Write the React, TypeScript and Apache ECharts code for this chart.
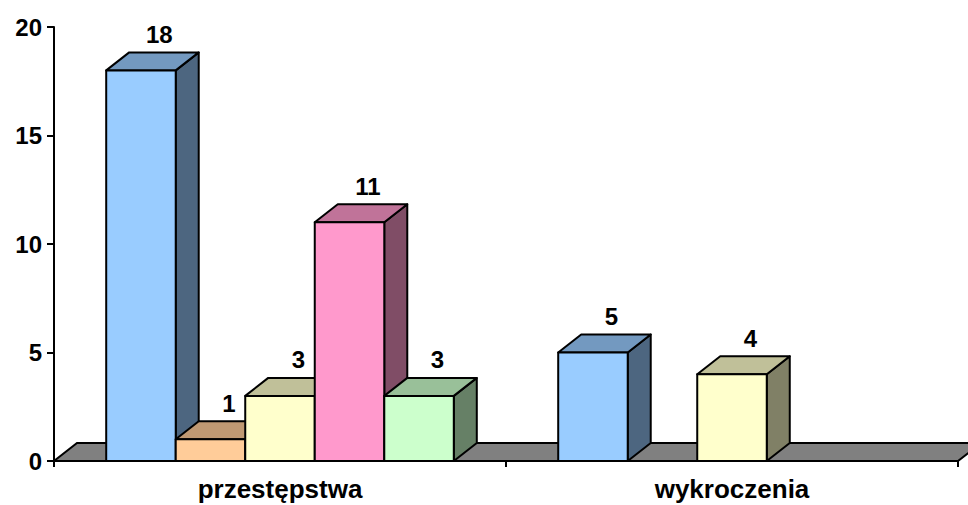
import React, { useEffect, useRef } from "react";
import * as echarts from "echarts";

const categories = ["przestępstwa", "wykroczenia"];
const yTicks = { min: 0, max: 20, interval: 5 };
const seriesA = [18, 5];
const seriesB = [1, null];
const seriesC = [3, 4];
const seriesD = [11, null];
const seriesE = [3, null];

const allSeries = [seriesA, seriesB, seriesC, seriesD, seriesE];
const frontColors = ["#99CCFF", "#FFCC99", "#FFFFCC", "#FF99CC", "#CCFFCC"];
const topColors = ["#7399C0", "#C09973", "#C0C099", "#C07399", "#99C099"];
const sideColors = ["#4D6680", "#80664D", "#808066", "#804D66", "#668066"];

const DX = 23;
const DY = 18;
const FAMILY = '"Liberation Sans", Arial, sans-serif';
const FONT = 'bold 24px "Liberation Sans", Arial, sans-serif';

export default function App() {
  const ref = useRef<HTMLDivElement>(null);
  useEffect(() => {
    document.body.style.margin = "0";
    const chart = echarts.init(ref.current!, null, { renderer: "svg" });
    const n = allSeries.length;
    const barSeries = allSeries.map((vals, si) => ({
      type: "custom",
      name: "s" + si,
      data: vals.map((v, i) => [i, v == null ? NaN : v]),
      renderItem: (params: any, api: any) => {
        const cat = api.value(0);
        const val = api.value(1);
        if (val == null || isNaN(val)) return null;
        const base = api.coord([cat, 0]);
        const top = api.coord([cat, val]);
        const catW = api.size([1, 0])[0];
        const bw = (catW * 0.769) / n;
        const x0 = base[0] + (si - n / 2) * bw;
        const x1 = x0 + bw;
        const yb = base[1];
        const yt = top[1];
        const line = { stroke: "#000", lineWidth: 2, lineJoin: "round" };
        return {
          type: "group",
          children: [
            {
              type: "polygon",
              shape: { points: [[x1, yb], [x1 + DX, yb - DY], [x1 + DX, yt - DY], [x1, yt]] },
              style: { fill: sideColors[si], ...line },
            },
            {
              type: "polygon",
              shape: { points: [[x0, yt], [x0 + DX, yt - DY], [x1 + DX, yt - DY], [x1, yt]] },
              style: { fill: topColors[si], ...line },
            },
            {
              type: "rect",
              shape: { x: x0, y: yt, width: bw, height: yb - yt },
              style: { fill: frontColors[si], ...line },
            },
            {
              type: "text",
              style: {
                text: String(val),
                x: (x0 + x1) / 2 + DX * 0.8,
                y: yt - DY - 6,
                textAlign: "center",
                textVerticalAlign: "bottom",
                font: FONT,
                fill: "#000",
              },
            },
          ],
        };
      },
    }));
    const floorSeries = {
      type: "custom",
      name: "floor",
      data: [[0, 0]],
      silent: true,
      renderItem: (params: any) => {
        const cs = params.coordSys;
        const yb = cs.y + cs.height;
        const xl = cs.x;
        const xr = cs.x + cs.width;
        return {
          type: "polygon",
          shape: { points: [[xl, yb], [xr, yb], [xr + DX, yb - DY], [xl + DX, yb - DY]] },
          style: { fill: "#808080", stroke: "#000", lineWidth: 2 },
        };
      },
    };
    chart.setOption({
      animation: false,
      grid: { left: 54, right: 10, top: 27, bottom: 44 },
      xAxis: {
        type: "category",
        data: categories,
        axisLine: { lineStyle: { color: "#000", width: 2 } },
        axisTick: { show: true, length: 6, lineStyle: { color: "#000", width: 2 } },
        axisLabel: { color: "#000", fontSize: 26, fontWeight: "bold", fontFamily: FAMILY, margin: 15 },
        z: 10,
      },
      yAxis: {
        type: "value",
        min: yTicks.min,
        max: yTicks.max,
        interval: yTicks.interval,
        axisLine: { show: true, lineStyle: { color: "#000", width: 2 } },
        axisTick: { show: true, length: 7, lineStyle: { color: "#000", width: 2 } },
        splitLine: { show: false },
        axisLabel: { color: "#000", fontSize: 24, fontWeight: "bold", fontFamily: FAMILY, margin: 12 },
      },
      series: [floorSeries, ...barSeries],
    });
    return () => chart.dispose();
  }, []);
  return <div ref={ref} style={{ width: 968, height: 505 }} />;
}
